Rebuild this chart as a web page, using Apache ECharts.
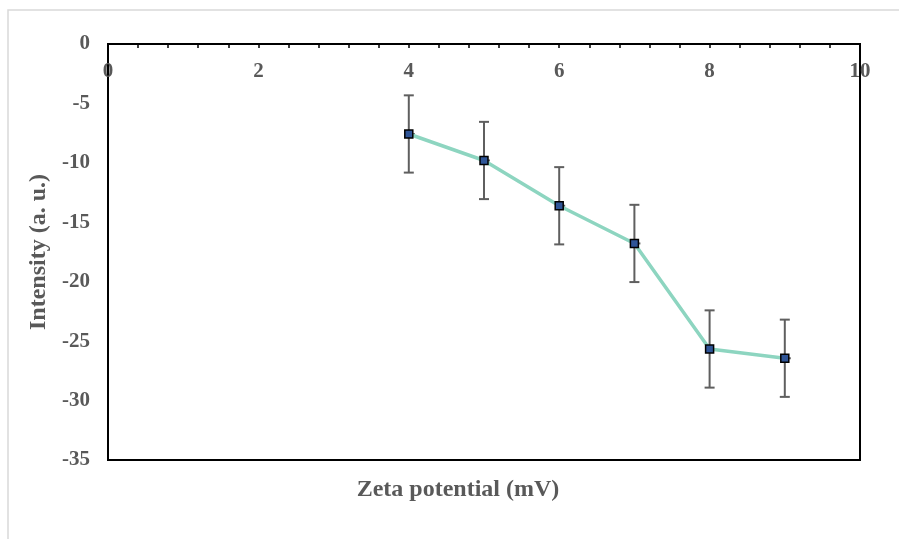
<!DOCTYPE html>
<html>
<head>
<meta charset="utf-8">
<script src="https://cdn.jsdelivr.net/npm/echarts@6/dist/echarts.min.js"></script>
<style>
    html, body { margin: 0; padding: 0; background: #fff; }
    #chartmain { width: 899px; height: 539px; }
</style>
</head>
<body>
<div id="chartmain"></div>
<script>
// 数据
var xValues = [4, 5, 6, 7, 8, 9];
var yValues = [-7.57, -9.8, -13.61, -16.78, -25.66, -26.44];
var yErrors = [3.25, 3.25, 3.25, 3.25, 3.25, 3.25];
var xTickLabels = ['0', '2', '4', '6', '8', '10'];
var yTickLabels = ['0', '-5', '-10', '-15', '-20', '-25', '-30', '-35'];

var labelFont = 'Liberation Serif';
var textGray = '#595959';

(function () {
    var points = [];
    var errData = [];
    for (let i = 0; i < xValues.length; i++) {
        points.push([xValues[i], yValues[i]]);
        errData.push([xValues[i], yValues[i] - yErrors[i], yValues[i] + yErrors[i], yValues[i]]);
    }

    // 误差线
    function renderError(params, api) {
        var x = api.value(0);
        var lo = api.coord([x, api.value(1)]);
        var hi = api.coord([x, api.value(2)]);
        var mid = api.coord([x, api.value(3)]);
        var cap = 5;
        var style = { stroke: '#5f5f5f', lineWidth: 2 };
        return {
            type: 'group',
            children: [
                { type: 'line', shape: { x1: hi[0], y1: hi[1], x2: lo[0], y2: lo[1] }, style: style },
                { type: 'line', shape: { x1: hi[0] - cap, y1: hi[1], x2: hi[0] + cap, y2: hi[1] }, style: style },
                { type: 'line', shape: { x1: lo[0] - cap, y1: lo[1], x2: lo[0] + cap, y2: lo[1] }, style: style },
                { type: 'line', shape: { x1: mid[0], y1: mid[1], x2: mid[0] + 6, y2: mid[1] }, style: style }
            ]
        };
    }

    var myChart = echarts.init(document.getElementById('chartmain'));
    var option = {
        animation: false,
        backgroundColor: '#fff',
        grid: {
            left: 108,
            right: 39,
            top: 44,
            bottom: 79,
            show: true,
            borderColor: '#000',
            borderWidth: 2
        },
        graphic: [
            {
                type: 'rect',
                shape: { x: 8, y: 10, width: 900, height: 540 },
                style: { fill: 'none', stroke: '#d9d9d9', lineWidth: 1.5 },
                z: -1
            },
            {
                type: 'text',
                x: 458,
                y: 490,
                style: {
                    text: 'Zeta potential (mV)',
                    font: 'bold 24px "Liberation Serif"',
                    fill: textGray,
                    align: 'center',
                    verticalAlign: 'middle'
                }
            }
        ],
        xAxis: {
            type: 'value',
            position: 'top',
            min: 0,
            max: 10,
            interval: 2,
            axisLine: { lineStyle: { color: '#000', width: 2 } },
            axisTick: { show: true, inside: true, length: 4, lineStyle: { color: '#000', width: 1.5 } },
            minorTick: { show: true, splitNumber: 5, length: 4, lineStyle: { color: '#000', width: 1.5 } },
            splitLine: { show: false },
            axisLabel: {
                inside: true,
                margin: 17,
                fontFamily: labelFont,
                fontWeight: 'bold',
                fontSize: 21,
                color: textGray,
                formatter: function (v) { return xTickLabels[Math.round(v / 2)]; }
            }
        },
        yAxis: {
            type: 'value',
            min: -35,
            max: 0,
            interval: 5,
            name: 'Intensity (a. u.)',
            nameLocation: 'middle',
            nameGap: 55,
            nameTextStyle: { fontFamily: labelFont, fontWeight: 'bold', fontSize: 24, color: textGray },
            axisLine: { show: true, lineStyle: { color: '#000', width: 2 } },
            axisTick: { show: false },
            splitLine: { show: false },
            axisLabel: {
                margin: 18,
                fontFamily: labelFont,
                fontWeight: 'bold',
                fontSize: 21,
                color: textGray,
                formatter: function (v) { return yTickLabels[Math.round(-v / 5)]; }
            }
        },
        series: [
            {
                type: 'custom',
                renderItem: renderError,
                data: errData,
                z: 1
            },
            {
                type: 'line',
                data: points,
                symbol: 'rect',
                symbolSize: 8,
                lineStyle: { color: '#8dd5c0', width: 3.5 },
                itemStyle: { color: '#2f5597', borderColor: '#000', borderWidth: 1.5 },
                z: 3
            }
        ]
    };
    myChart.setOption(option);
})();
</script>
</body>
</html>
